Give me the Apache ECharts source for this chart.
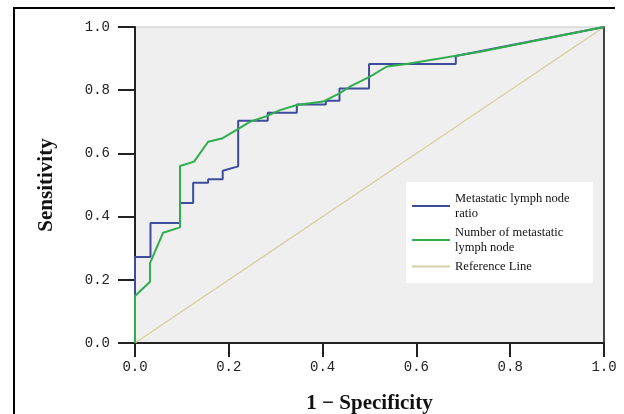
<!DOCTYPE html>
<html>
<head>
<meta charset="utf-8">
<script src="https://cdn.jsdelivr.net/npm/echarts@6/dist/echarts.min.js"></script>
<style>
  html, body { margin: 0; padding: 0; background: #fff; }
  #chart { width: 624px; height: 414px; }
</style>
</head>
<body>
<div id="chart"></div>
<script>
// ROC 曲线数据 (1 - Specificity, Sensitivity)
var seriesNames = ['Metastatic lymph node ratio', 'Number of metastatic lymph node', 'Reference Line'];
var legendLabels = ['Metastatic lymph node\nratio', 'Number of metastatic\nlymph node', 'Reference Line'];

var ratioCurve = [
    [0, 0], [0, 0.272], [0.033, 0.272], [0.033, 0.38], [0.096, 0.38], [0.096, 0.443],
    [0.124, 0.443], [0.124, 0.507], [0.156, 0.507], [0.156, 0.518], [0.187, 0.518],
    [0.187, 0.545], [0.22, 0.559], [0.22, 0.703], [0.283, 0.703], [0.283, 0.729],
    [0.345, 0.729], [0.345, 0.755], [0.407, 0.755], [0.407, 0.767], [0.436, 0.767],
    [0.436, 0.805], [0.499, 0.805], [0.499, 0.883], [0.684, 0.883], [0.684, 0.908], [1, 1]
];

var numberCurve = [
    [0, 0], [0, 0.149], [0.032, 0.194], [0.032, 0.253], [0.06, 0.349], [0.096, 0.366],
    [0.096, 0.56], [0.126, 0.574], [0.156, 0.637], [0.185, 0.647], [0.222, 0.679],
    [0.245, 0.70], [0.281, 0.718], [0.309, 0.737], [0.345, 0.753], [0.401, 0.764],
    [0.436, 0.79], [0.458, 0.811], [0.501, 0.843], [0.537, 0.875], [0.579, 0.883],
    [0.736, 0.922], [1, 1]
];

var referenceLine = [[0, 0], [1, 1]];

var tickFont = { fontFamily: 'Liberation Mono', fontSize: 14, color: '#222' };

var chart = echarts.init(document.getElementById('chart'));

var option = {
    animation: false,
    backgroundColor: '#fff',
    grid: {
        left: 135, right: 20, top: 27, bottom: 71,
        outerBoundsMode: 'none',
        containLabel: false,
        show: true,
        backgroundColor: '#efefef',
        borderColor: '#c8c8c8',
        borderWidth: 1
    },
    xAxis: {
        type: 'value', min: 0, max: 1, interval: 0.2,
        name: '1 \u2212 Specificity',
        nameLocation: 'middle',
        nameGap: 50,
        nameTextStyle: { fontFamily: 'Liberation Serif', fontWeight: 'bold', fontSize: 21, color: '#111' },
        axisLine: { lineStyle: { color: '#222', width: 2 } },
        axisTick: { show: true, length: 14, lineStyle: { color: '#222', width: 2 } },
        axisLabel: Object.assign({ margin: 17, formatter: function(v){ return v.toFixed(1); } }, tickFont),
        splitLine: { show: false }
    },
    yAxis: [{
        type: 'value', min: 0, max: 1, interval: 0.2,
        name: 'Sensitivity',
        nameLocation: 'middle',
        nameRotate: 90,
        nameGap: 78,
        nameTextStyle: { fontFamily: 'Liberation Serif', fontWeight: 'bold', fontSize: 21, color: '#111' },
        axisLine: { show: true, lineStyle: { color: '#222', width: 2 } },
        axisTick: { show: true, length: 17, lineStyle: { color: '#222', width: 2 } },
        axisLabel: Object.assign({ margin: 25, formatter: function(v){ return v.toFixed(1); } }, tickFont),
        splitLine: { show: false }
    }, {
        type: 'value', min: 0, max: 1, position: 'right',
        axisLine: { show: true, lineStyle: { color: '#444', width: 2 } },
        axisTick: { show: false },
        axisLabel: { show: false },
        splitLine: { show: false }
    }],
    legend: {
        orient: 'vertical',
        left: 407, top: 186,
        itemWidth: 38, itemHeight: 2,
        itemGap: 4,
        icon: 'rect',
        z: 6,
        data: seriesNames,
        formatter: function(name){ return legendLabels[seriesNames.indexOf(name)]; },
        textStyle: { fontFamily: 'Liberation Serif', fontSize: 12.5, lineHeight: 15, color: '#111' }
    },
    graphic: [{
        type: 'rect',
        shape: { x: 406, y: 182, width: 187, height: 101 },
        style: { fill: '#fff' },
        z: 5
    }, {
        type: 'polyline',
        shape: { points: [[14, 414], [14, 8], [615, 8]] },
        style: { stroke: '#000', lineWidth: 2, fill: null },
        z: 5
    }],
    series: [{
        name: seriesNames[2],
        type: 'line',
        data: referenceLine,
        symbol: 'none',
        z: 1,
        lineStyle: { color: '#d6d0a4', width: 1.5 },
        itemStyle: { color: '#d6d0a4' }
    }, {
        name: seriesNames[0],
        type: 'line',
        data: ratioCurve,
        symbol: 'none',
        z: 2,
        lineStyle: { color: '#3d4d9c', width: 2 },
        itemStyle: { color: '#3d4d9c' }
    }, {
        name: seriesNames[1],
        type: 'line',
        data: numberCurve,
        symbol: 'none',
        z: 3,
        lineStyle: { color: '#2fae4e', width: 2 },
        itemStyle: { color: '#2fae4e' }
    }]
};

chart.setOption(option);
</script>
</body>
</html>
